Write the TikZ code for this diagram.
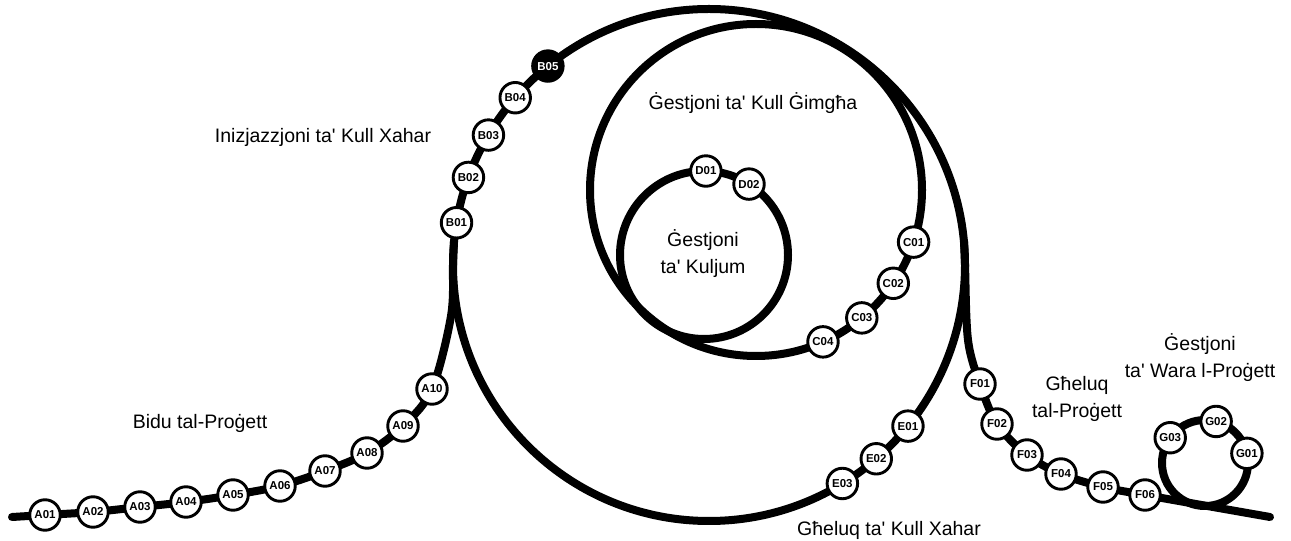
\documentclass[tikz,border=0pt]{standalone}
\usepackage{fontspec}
\setmainfont{Liberation Sans}[Ligatures=TeXOff]
\usetikzlibrary{backgrounds}
\begin{document}
\begin{tikzpicture}[x=1pt,y=1pt,
  track/.style={line width=8pt, line cap=round, line join=round},
  station/.style={circle, draw, line width=2.9pt, fill=white, minimum size=30.5pt, inner sep=0pt,
    font=\bfseries\fontsize{11.5}{11.5}\selectfont},
  firststation/.style={station, fill=black, text=white},
  lbl/.style={font=\fontsize{19.5}{27}\selectfont, align=center}]
\useasboundingbox (0,0) rectangle (1291,541);
% centres of the loops
\coordinate (Obig) at (709,276);
\coordinate (Omid) at (756,351);
\coordinate (Oday) at (704,286);
\coordinate (Opost) at (1205,78);
% free ends and bends of the track
\coordinate (Astart) at (12,24);
\coordinate (Abend) at (451,225);
\coordinate (Ajoin) at (453,276);
\coordinate (Amerge) at (454,300);
\coordinate (Fmerge) at (964,300);
\coordinate (Fjoin) at (965,276);
\coordinate (Fbend) at (968,201);
\coordinate (Fend) at (1270,24);

% stations A
\node[station] (A01) at (45,26) {A01};
\node[station] (A02) at (93,29) {A02};
\node[station] (A03) at (140,34) {A03};
\node[station] (A04) at (186,39) {A04};
\node[station] (A05) at (233,46) {A05};
\node[station] (A06) at (280,55) {A06};
\node[station] (A07) at (325,70) {A07};
\node[station] (A08) at (367,88) {A08};
\node[station] (A09) at (403,115) {A09};
\node[station] (A10) at (432,152) {A10};
% stations B (big loop)
\node[station] (B01) at ([shift={(170.5:256)}]Obig) {B01};
\node[station] (B02) at ([shift={(160:256)}]Obig) {B02};
\node[station] (B03) at ([shift={(149.5:256)}]Obig) {B03};
\node[station] (B04) at ([shift={(139.2:256)}]Obig) {B04};
\node[firststation] (B05) at ([shift={(129:256)}]Obig) {B05};
% stations C (weekly loop)
\node[station] (C01) at ([shift={(-18.3:166)}]Omid) {C01};
\node[station] (C02) at ([shift={(-34.2:166)}]Omid) {C02};
\node[station] (C03) at ([shift={(-50.4:166)}]Omid) {C03};
\node[station] (C04) at ([shift={(-66.2:166)}]Omid) {C04};
% stations D (daily loop)
\node[station] (D01) at ([shift={(88.7:84)}]Oday) {D01};
\node[station] (D02) at ([shift={(57.6:84)}]Oday) {D02};
% stations E (big loop, bottom right)
\node[station] (E01) at ([shift={(-39:256)}]Obig) {E01};
\node[station] (E02) at ([shift={(-49.2:256)}]Obig) {E02};
\node[station] (E03) at ([shift={(-58.6:256)}]Obig) {E03};
% stations F
\node[station] (F01) at (980,157) {F01};
\node[station] (F02) at (997,117) {F02};
\node[station] (F03) at (1027,86) {F03};
\node[station] (F04) at (1061,67) {F04};
\node[station] (F05) at (1103,54) {F05};
\node[station] (F06) at (1145,46) {F06};
% stations G
\node[station] (G01) at ([shift={(13:43)}]Opost) {G01};
\node[station] (G02) at ([shift={(75:43)}]Opost) {G02};
\node[station] (G03) at ([shift={(144:43)}]Opost) {G03};

% labels
\node[lbl] (lInit) at (323,404) {Inizjazzjoni ta' Kull Xahar};
\node[lbl] (lWeek) at (753,438) {Ġestjoni ta' Kull Ġimgħa};
\node[lbl] (lDay) at (703,287) {Ġestjoni\\ta' Kuljum};
\node[lbl] (lStart) at (200,118) {Bidu tal-Proġett};
\node[lbl] (lMonthEnd) at (889,11) {Għeluq ta' Kull Xahar};
\node[lbl] (lEnd) at (1077,142) {Għeluq\\tal-Proġett};
\node[lbl] (lPost) at (1200,183) {Ġestjoni\\ta' Wara l-Proġett};

\begin{scope}[on background layer]
  \draw[track] (Obig) circle[radius=256pt];
  \draw[track] (Omid) circle[radius=166pt];
  \draw[track] (Oday) circle[radius=84pt];
  \draw[track] (Opost) circle[radius=43pt];
  \draw[track] plot[smooth, tension=0.55] coordinates {(Astart) (A01.center) (A02.center) (A03.center)
    (A04.center) (A05.center) (A06.center) (A07.center) (A08.center) (A09.center) (A10.center)
    (Abend) (Ajoin) (Amerge)};
  \draw[track] plot[smooth, tension=0.55] coordinates {(Fmerge) (Fjoin) (Fbend) (F01.center)
    (F02.center) (F03.center) (F04.center) (F05.center) (F06.center) (Fend)};
\end{scope}
\end{tikzpicture}
\end{document}
